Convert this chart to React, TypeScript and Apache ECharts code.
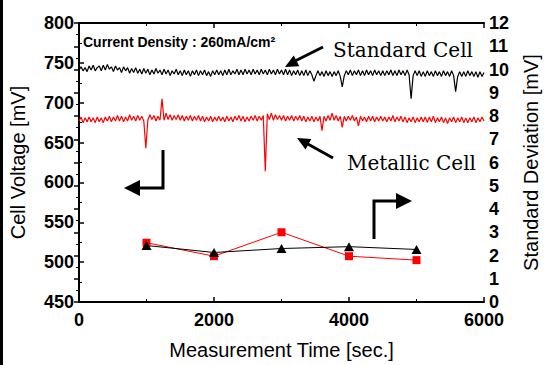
import React, { useEffect, useRef } from "react";
import * as echarts from "echarts";

const SAMPLE_SEC = 30;

const standardCell = [
  741,745,740,744,739,746,741,747,740,744,
  746,740,747,741,748,742,745,739,746,741,
  744,738,745,740,744,737,743,738,744,737,
  742,736,743,737,742,735,741,736,743,737,
  741,735,742,736,741,734,740,736,742,735,
  740,734,741,735,740,733,740,735,741,734,
  740,735,741,734,739,733,740,735,741,735,
  740,734,741,735,742,735,740,736,742,735,
  741,735,742,736,741,735,742,736,741,735,
  742,736,741,735,742,736,741,735,742,736,
  741,735,742,735,741,734,740,735,741,734,
  740,734,741,734,740,735,727,734,740,734,
  739,733,740,734,739,733,739,734,740,733,
  720,734,740,735,741,734,740,735,741,734,
  740,734,741,735,740,734,741,735,740,734,
  740,734,740,735,741,734,740,734,741,735,
  740,734,741,735,705,734,740,734,740,733,
  739,733,740,734,739,733,740,734,739,733,
  740,734,739,733,740,734,714,733,739,733,
  739,733,740,734,739,733,739,732,739,733,
  738,
];

const metallicCell = [
  677,682,675,681,676,682,676,681,675,682,
  676,681,675,682,677,683,676,682,677,684,
  677,683,676,682,677,685,678,683,677,684,
  678,683,677,643,678,685,679,684,677,683,
  678,705,678,687,679,685,678,684,679,685,
  678,684,677,683,678,684,677,683,678,684,
  677,683,676,682,677,683,676,682,677,683,
  677,682,676,683,677,682,676,683,678,684,
  677,683,676,682,677,683,678,684,677,683,
  678,684,614,686,679,687,678,685,679,684,
  678,684,677,683,678,684,677,683,678,684,
  677,683,676,682,677,683,676,682,677,683,
  665,683,677,684,678,687,678,684,677,683,
  669,683,677,683,678,684,677,682,671,683,
  677,682,676,683,677,683,676,682,677,683,
  677,682,676,682,677,684,676,682,677,683,
  676,682,675,681,676,682,675,681,676,682,
  676,682,675,682,676,683,675,681,676,682,
  675,681,674,681,676,682,675,681,676,682,
  675,681,675,681,676,682,675,681,676,682,
  677,
];

const sdTimes = [1000, 2000, 3000, 4000, 5000];
const sdStandard = [2.43, 2.13, 2.3, 2.38, 2.26];
const sdMetallic = [2.55, 1.97, 3.0, 1.97, 1.8];

const FONT = "Liberation Sans";
const SERIF = "DejaVu Serif";

const mkLine = () => ({ show: true, lineStyle: { color: "#000", width: 2 } });
const mkTick = () => ({ inside: true, length: 5, lineStyle: { color: "#000", width: 1.5 } });
const mkMinor = () => ({ show: true, splitNumber: 2, length: 3, lineStyle: { color: "#000", width: 1 } });
const mkLabel = (margin: number) => ({
  show: true,
  color: "#000",
  fontFamily: FONT,
  fontWeight: "bold",
  fontSize: 18,
  lineHeight: 14,
  margin,
  formatter: (v: number) => String(v),
});
const mkName = () => ({ color: "#000", fontFamily: FONT, fontWeight: "normal", fontSize: 20 });

export default function App() {
  const ref = useRef<HTMLDivElement>(null);
  useEffect(() => {
    if (!ref.current) return;
    const chart = echarts.init(ref.current, undefined, { renderer: "svg" });
    chart.setOption({
      animation: false,
      grid: { left: 74, right: 62, top: 23, bottom: 55, containLabel: false },
      xAxis: [
        {
          type: "value", min: 0, max: 6000, interval: 2000, position: "bottom",
          axisLine: mkLine(), axisTick: mkTick(), minorTick: mkMinor(),
          axisLabel: mkLabel(11),
          splitLine: { show: false }, minorSplitLine: { show: false },
          name: "Measurement Time [sec.]", nameLocation: "middle", nameGap: 38, nameTextStyle: mkName(),
        },
        {
          type: "value", min: 0, max: 6000, interval: 2000, position: "top",
          axisLine: mkLine(), axisTick: mkTick(), minorTick: mkMinor(),
          axisLabel: { show: false }, splitLine: { show: false },
        },
      ],
      yAxis: [
        {
          type: "value", min: 450, max: 800, interval: 50, position: "left",
          axisLine: mkLine(), axisTick: mkTick(), minorTick: mkMinor(),
          axisLabel: mkLabel(5), splitLine: { show: false },
          name: "Cell Voltage [mV]", nameLocation: "middle", nameGap: 51, nameRotate: 90, nameTextStyle: mkName(),
        },
        {
          type: "value", min: 0, max: 12, interval: 1, position: "right",
          axisLine: mkLine(), axisTick: mkTick(), minorTick: mkMinor(),
          axisLabel: mkLabel(5), splitLine: { show: false },
          name: "Standard Deviation [mV]", nameLocation: "middle", nameGap: 37, nameRotate: 90, nameTextStyle: mkName(),
        },
      ],
      series: [
        {
          type: "line", name: "Standard Cell", xAxisIndex: 0, yAxisIndex: 0, showSymbol: false,
          data: standardCell.map((v, i) => [i * SAMPLE_SEC, v]),
          lineStyle: { color: "#000", width: 1.2 }, itemStyle: { color: "#000" },
        },
        {
          type: "line", name: "Metallic Cell", xAxisIndex: 0, yAxisIndex: 0, showSymbol: false,
          data: metallicCell.map((v, i) => [i * SAMPLE_SEC, v]),
          lineStyle: { color: "#ff0000", width: 1.2 }, itemStyle: { color: "#ff0000" },
        },
        {
          type: "line", name: "SD Metallic", xAxisIndex: 0, yAxisIndex: 1,
          data: sdTimes.map((t, i) => [t, sdMetallic[i]]),
          symbol: "rect", symbolSize: 8,
          lineStyle: { color: "#ff0000", width: 1 }, itemStyle: { color: "#ff0000" },
        },
        {
          type: "line", name: "SD Standard", xAxisIndex: 0, yAxisIndex: 1,
          data: sdTimes.map((t, i) => [t, sdStandard[i]]),
          symbol: "triangle", symbolSize: [10, 9],
          lineStyle: { color: "#000", width: 1 }, itemStyle: { color: "#000" },
        },
      ],
      graphic: [
        { type: "rect", shape: { x: 0, y: 0, width: 3, height: 365 }, style: { fill: "#000" } },
        {
          type: "text", x: 83, y: 42,
          style: { text: "Current Density : 260mA/cm²", fontFamily: FONT, fontWeight: "bold", fontSize: 14, fill: "#000", textVerticalAlign: "middle" },
        },
        {
          type: "text", x: 333, y: 50,
          style: { text: "Standard Cell", fontFamily: SERIF, fontWeight: "normal", fontSize: 20, fill: "#000", textVerticalAlign: "middle" },
        },
        {
          type: "text", x: 347, y: 163,
          style: { text: "Metallic Cell", fontFamily: SERIF, fontWeight: "normal", fontSize: 20, fill: "#000", textVerticalAlign: "middle" },
        },
        { type: "line", shape: { x1: 323, y1: 47, x2: 295, y2: 61 }, style: { stroke: "#000", lineWidth: 3 } },
        { type: "polygon", shape: { points: [[285, 67], [299.3, 66.2], [293.7, 55.6]] }, style: { fill: "#000" } },
        { type: "line", shape: { x1: 333, y1: 158, x2: 306, y2: 143 }, style: { stroke: "#000", lineWidth: 3 } },
        { type: "polygon", shape: { points: [[297, 138], [305.5, 149.5], [311.3, 139.1]] }, style: { fill: "#000" } },
        { type: "polyline", shape: { points: [[163, 150], [163, 188], [139, 188]] }, style: { stroke: "#000", lineWidth: 3, fill: null } },
        { type: "polygon", shape: { points: [[124, 188], [140, 180], [140, 196]] }, style: { fill: "#000" } },
        { type: "polyline", shape: { points: [[374, 239], [374, 201], [397, 201]] }, style: { stroke: "#000", lineWidth: 3, fill: null } },
        { type: "polygon", shape: { points: [[412, 201], [396, 193], [396, 209]] }, style: { fill: "#000" } },
      ],
    });
    return () => chart.dispose();
  }, []);
  return (
    <div
      ref={ref}
      style={{ position: "fixed", left: 0, top: 0, width: 549, height: 365, background: "#fff" }}
    />
  );
}
